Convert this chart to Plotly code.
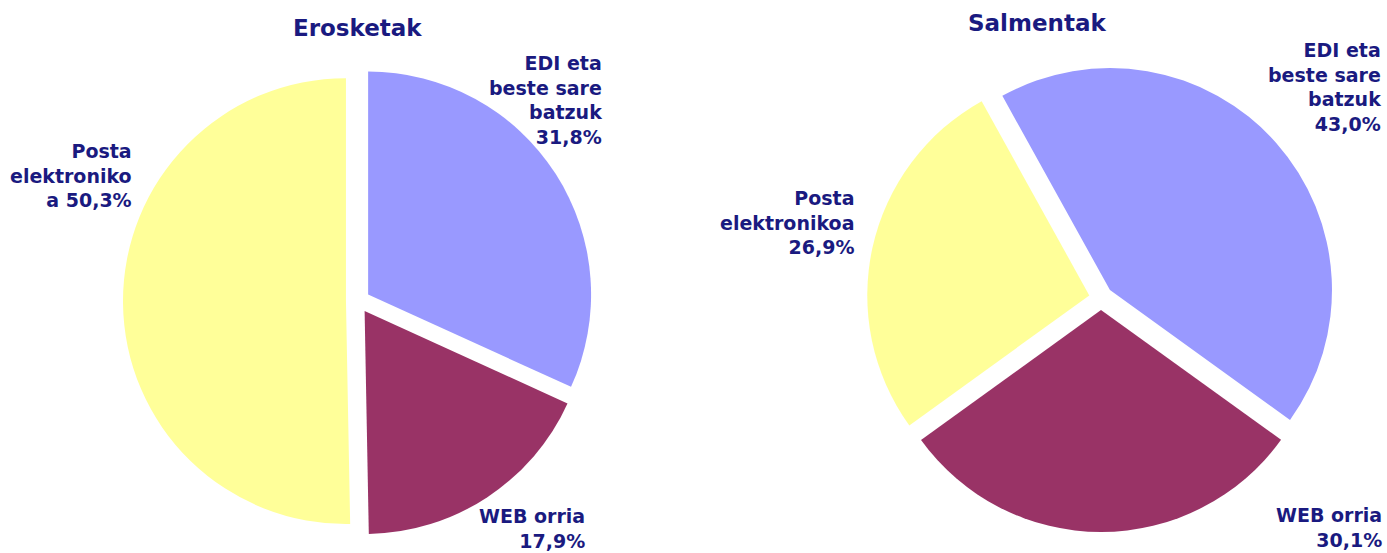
import plotly.graph_objects as go

W, H = 1387, 553

categories = ["EDI eta beste sare batzuk", "WEB orria", "Posta elektronikoa"]
erosketak = [31.8, 17.9, 50.3]
salmentak = [43.0, 30.1, 26.9]
colors = ["#9999FF", "#993366", "#FFFF99"]

erosketak_labels = ["EDI eta<br>beste sare<br>batzuk<br>31,8%", "WEB orria<br>17,9%", "Posta<br>elektroniko<br>a 50,3%"]
salmentak_labels = ["EDI eta<br>beste sare<br>batzuk<br>43,0%", "WEB orria<br>30,1%", "Posta<br>elektronikoa<br>26,9%"]

PULL = 0.054

def px_x(x):
    return x / W

def px_y(y):
    return 1 - y / H

def domain(cx, cy, half):
    return dict(x=[px_x(cx - half), px_x(cx + half)], y=[px_y(cy + half), px_y(cy - half)])

fig = go.Figure()
fig.add_trace(go.Pie(
    labels=categories, values=erosketak, sort=False, direction="clockwise", rotation=0,
    marker=dict(colors=colors, line=dict(width=0)), pull=[PULL] * 3,
    textinfo="none", hoverinfo="label+percent", showlegend=False,
    domain=domain(358, 301, 235),
))
fig.add_trace(go.Pie(
    labels=categories, values=salmentak, sort=False, direction="clockwise", rotation=-29,
    marker=dict(colors=colors, line=dict(width=0)), pull=[PULL] * 3,
    textinfo="none", hoverinfo="label+percent", showlegend=False,
    domain=domain(1101, 298, 234),
))

FONT = "DejaVu Sans"
TXT = "#1A1A80"

def ann(text, x, y, size=19):
    fig.add_annotation(text="<b>" + text + "</b>", x=px_x(x), y=px_y(y), xref="paper", yref="paper",
                       xanchor="right", yanchor="middle", align="right", showarrow=False,
                       font=dict(family=FONT, size=size, color=TXT))

# titles
fig.add_annotation(text="<b>Erosketak</b>", x=px_x(357), y=px_y(28), xref="paper", yref="paper",
                   xanchor="center", yanchor="middle", showarrow=False,
                   font=dict(family=FONT, size=23, color=TXT))
fig.add_annotation(text="<b>Salmentak</b>", x=px_x(1037), y=px_y(23), xref="paper", yref="paper",
                   xanchor="center", yanchor="middle", showarrow=False,
                   font=dict(family=FONT, size=23, color=TXT))

ann(erosketak_labels[0], 604, 100)
ann(erosketak_labels[1], 587, 528)
ann(erosketak_labels[2], 134, 176)
ann(salmentak_labels[0], 1383, 87)
ann(salmentak_labels[1], 1384, 527)
ann(salmentak_labels[2], 856, 222)

fig.update_layout(width=W, height=H, margin=dict(l=0, r=0, t=0, b=0),
                  paper_bgcolor="white", plot_bgcolor="white")

fig.write_html("out.html")
